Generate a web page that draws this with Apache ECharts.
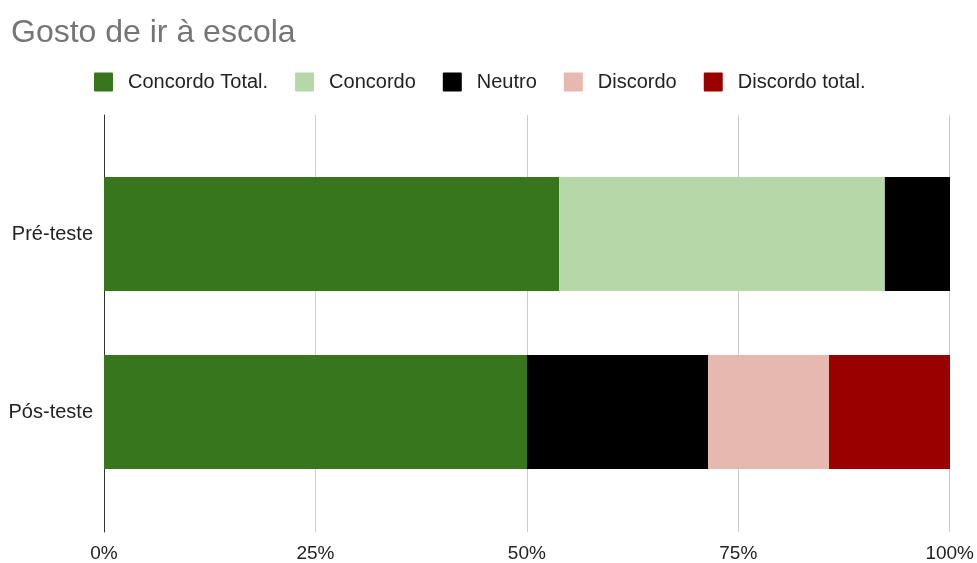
<!DOCTYPE html>
<html>
<head>
<meta charset="utf-8">
<script src="https://cdn.jsdelivr.net/npm/echarts@6/dist/echarts.min.js"></script>
<style>
  html, body { margin: 0; padding: 0; background: #fff; }
  #chart { width: 977px; height: 563px; }
</style>
</head>
<body>
<div id="chart"></div>
<script>
// Respostas (% de alunos) por fase do teste
const categories = ['Pré-teste', 'Pós-teste'];
const seriesNames = ['Concordo Total.', 'Concordo', 'Neutro', 'Discordo', 'Discordo total.'];
const concordoTotal = [53.8, 50.0];
const concordo = [38.5, 0];
const neutro = [7.7, 21.4];
const discordo = [0, 14.3];
const discordoTotal = [0, 14.3];
const tickLabels = ['0%', '25%', '50%', '75%', '100%'];

const colors = ['#38761d', '#b6d7a8', '#000000', '#e6b8af', '#990000'];
const values = [concordoTotal, concordo, neutro, discordo, discordoTotal];
const font = 'Liberation Sans, Arial, sans-serif';

const chart = echarts.init(document.getElementById('chart'));
chart.setOption({
  animation: false,
  color: colors,
  title: {
    text: 'Gosto de ir à escola',
    left: 6,
    top: 12,
    textStyle: { fontFamily: font, fontSize: 32, fontWeight: 'normal', color: '#757575' }
  },
  legend: {
    left: 89,
    top: 67,
    itemWidth: 19,
    itemHeight: 19,
    itemGap: 27,
    icon: 'path://M1,0 L18,0 Q19,0 19,1 L19,18 Q19,19 18,19 L1,19 Q0,19 0,18 L0,1 Q0,0 1,0 Z',
    textStyle: { fontFamily: font, fontSize: 20, color: '#222', padding: [0, 0, 0, 10] },
    data: seriesNames
  },
  grid: [
    // full plot area: gridlines and the zero line
    { left: 104, right: 27, top: 115, bottom: 30 },
    // inner band area holding the bars
    { left: 104, right: 27, top: 145, bottom: 62 }
  ],
  xAxis: [
    {
      gridIndex: 0,
      type: 'value',
      min: 0,
      max: 100,
      interval: 25,
      axisLine: { show: false },
      axisTick: { show: false },
      splitLine: { show: true, lineStyle: { color: '#cccccc', width: 1 } },
      axisLabel: {
        fontFamily: font,
        fontSize: 19,
        color: '#222',
        margin: 12,
        formatter: (v) => tickLabels[Math.round(v / 25)]
      }
    },
    {
      gridIndex: 1,
      type: 'value',
      min: 0,
      max: 100,
      show: false
    }
  ],
  yAxis: [
    {
      gridIndex: 0,
      type: 'value',
      min: 0,
      max: 1,
      axisLine: { show: true, onZero: false, lineStyle: { color: '#333333', width: 1 } },
      axisTick: { show: false },
      axisLabel: { show: false },
      splitLine: { show: false }
    },
    {
      gridIndex: 1,
      type: 'category',
      inverse: true,
      data: categories,
      axisLine: { show: false },
      axisTick: { show: false },
      axisLabel: { fontFamily: font, fontSize: 20, color: '#222', margin: 11 }
    }
  ],
  series: seriesNames.map((name, i) => ({
    name,
    type: 'bar',
    stack: 'total',
    xAxisIndex: 1,
    yAxisIndex: 1,
    barWidth: 114,
    data: values[i],
    itemStyle: { color: colors[i] }
  }))
});
</script>
</body>
</html>
